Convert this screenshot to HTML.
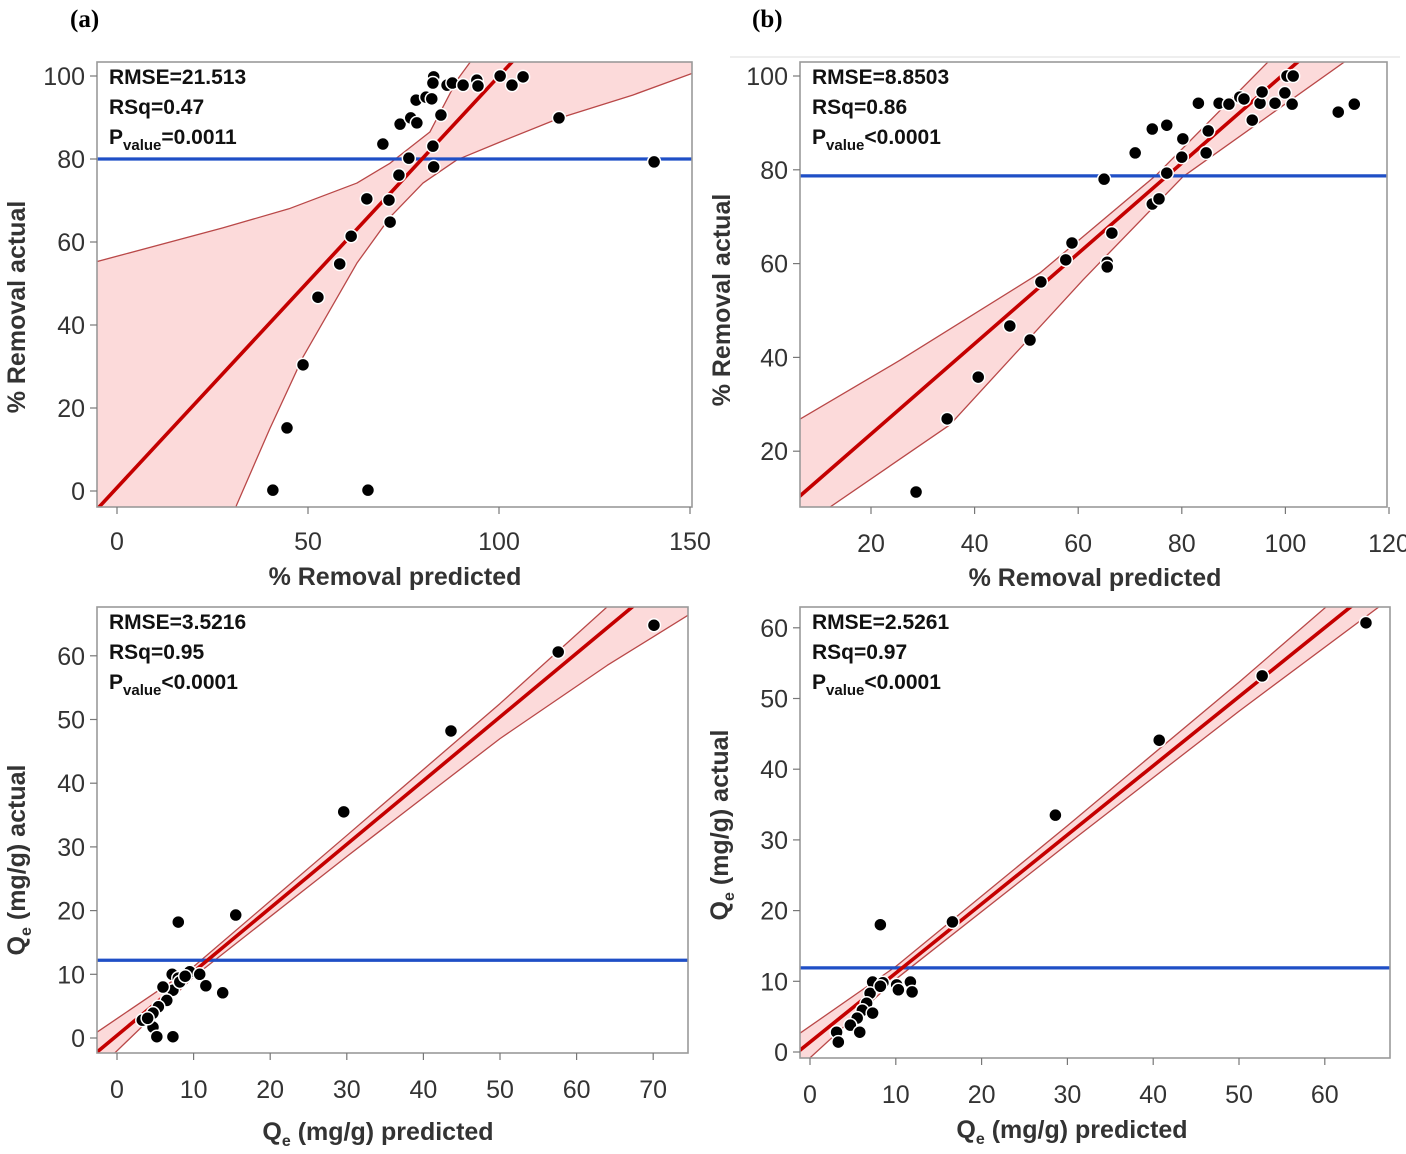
<!DOCTYPE html>
<html><head><meta charset="utf-8"><style>
html,body{margin:0;padding:0;background:#fff;}
svg{display:block;font-family:"Liberation Sans",sans-serif;}
</style></head><body>
<svg id="fig" width="1406" height="1154" viewBox="0 0 1406 1154" xmlns="http://www.w3.org/2000/svg">
<text x="70" y="27" font-family="Liberation Serif,serif" font-weight="bold" font-size="25">(a)</text>
<text x="752" y="27" font-family="Liberation Serif,serif" font-weight="bold" font-size="25">(b)</text>
<line x1="730" y1="57" x2="1400" y2="57" stroke="#ddd" stroke-width="1"/>
</svg>
<script>
// Panel A data (% removal)
const A_pred=[40.8,65.7,44.5,48.7,52.6,58.3,61.3,65.4,71.2,71.5,73.8,76.4,82.9,82.7,69.6,84.8,74.1,76.9,78.5,78.3,80.9,82.4,82.9,82.7,86.4,87.8,90.6,94.2,94.5,100.3,103.4,106.3,115.7,140.6];
const A_act=[0.2,0.2,15.2,30.4,46.7,54.7,61.4,70.4,70.1,64.8,76.1,80.2,78.1,83.1,83.6,90.6,88.4,89.9,88.7,94.2,94.9,94.5,99.8,98.3,97.8,98.3,97.8,99,97.6,100,97.8,99.8,89.9,79.3];
const A_fit=[0.992,0.8];
const A_mean=[80];
const A_bandHiX=[-6,27.7,45,62.8,71.5,81.9,89,92.9,100.3,160];
const A_bandHi=[55.1,63.4,68,74.2,79,86.5,99,103.9,118,130];
const A_bandLoX=[-6,27,31.3,40,48.7,62.8,71.5,80.1,89,100.3,116,135,150.8,160];
const A_bandLo=[-60,-16.6,-3.4,15,32.3,54.9,66,74.2,79.8,84.1,89.9,95.4,100.7,102];
const A_xt=[0,50,100,150];
const A_yt=[0,20,40,60,80,100];

// Panel B data (% removal)
const B_pred=[28.7,34.7,40.7,46.8,50.7,52.8,57.6,58.8,65.6,65.6,65,71,74.3,77.1,80.2,80,77.1,74.3,75.6,66.5,84.7,85.1,83.2,87.2,89.1,91.2,92,93.6,95.1,95.5,98,99.9,101.3,100.3,101.5,110.2,113.3];
const B_act=[11.3,26.9,35.8,46.7,43.7,56.1,60.8,64.4,60.3,59.3,78,83.6,88.7,89.5,86.6,82.7,79.3,72.7,73.8,66.5,83.6,88.3,94.2,94.2,94,95.5,95.1,90.6,94.2,96.6,94.2,96.4,94,100,100,92.3,94];
const B_fit=[0.963,4.4];
const B_mean=[78.7];
const B_bandHiX=[5,25.6,52.6,75.1,97,110];
const B_bandHi=[26,39.4,58,78.9,103.4,120];
const B_bandLoX=[5,12.1,35.2,60.9,80.2,111.9];
const B_bandLo=[-8,8.1,25.6,56.5,78.5,103.4];
const B_xt=[20,40,60,80,100,120];
const B_yt=[20,40,60,80,100];

// Panel C data (Qe)
const C_pred=[70.1,57.6,43.6,29.6,15.5,8,7.2,9.5,10.8,11.6,13.8,8,7.3,6.5,5.4,4.7,3.3,4.7,5.2,7.3,6,8.2,8.9,4];
const C_act=[64.8,60.6,48.2,35.5,19.3,18.2,10,10.4,10,8.2,7.1,9.4,7.5,5.9,4.9,3.9,2.8,1.7,0.2,0.2,8,8.8,9.7,3.1];
const C_fit=[1.0,0.4];
const C_mean=[12.2];
const C_bandHiX=[-3,10,30,50,64,75];
const C_bandHi=[0.6,11.2,31.8,52.5,67.7,80];
const C_bandLoX=[-3,10,30,50,64,75];
const C_bandLo=[-5.5,9.6,28.5,47,58.5,66.7];
const C_xt=[0,10,20,30,40,50,60,70];
const C_yt=[0,10,20,30,40,50,60];

// Panel D data (Qe)
const D_pred=[64.8,52.7,40.7,28.6,16.6,8.2,7.3,8.5,10.1,11.7,11.9,10.3,7,6.6,6.1,5.5,4.7,3.1,3.3,5.8,7.3,8.2];
const D_act=[60.7,53.2,44.1,33.5,18.4,18,9.9,9.8,9.5,9.9,8.5,8.8,8.3,6.9,5.9,4.8,3.8,2.8,1.4,2.8,5.5,9.3];
const D_fit=[0.977,1.4];
const D_mean=[11.9];
const D_bandHiX=[-2,10,30,50,70];
const D_bandHi=[1.95,12.1,32,52.3,73.3];
const D_bandLoX=[-2,10,30,50,70];
const D_bandLo=[-3.05,10.3,29.4,48.2,66.3];
const D_xt=[0,10,20,30,40,50,60];
const D_yt=[0,10,20,30,40,50,60];

const NS='http://www.w3.org/2000/svg';
const svg=document.getElementById('fig');
function mk(tag,attrs,parent){const e=document.createElementNS(NS,tag);for(const k in attrs)e.setAttribute(k,attrs[k]);(parent||svg).appendChild(e);return e;}

function panel(id,c,pred,act,fit,mean,hX,hY,lX,lY,xt,yt,stats,xTitle,yTitle){
  const sx=v=>c.xp0+v*c.kx, sy=v=>c.yp0-v*c.ky;
  const g=mk('g',{});
  
  
  const cp=mk('clipPath',{id:'clip'+id},g);
  mk('rect',{x:c.fx0,y:c.fy0,width:c.fx1-c.fx0,height:c.fy1-c.fy0},cp);
  const pl=mk('g',{'clip-path':'url(#clip'+id+')'},g);
  let pts=[];
  for(let i=0;i<hX.length;i++)pts.push(sx(hX[i])+','+sy(hY[i]));
  for(let i=lX.length-1;i>=0;i--)pts.push(sx(lX[i])+','+sy(lY[i]));
  const band=mk('polygon',{points:pts.join(' '),fill:'#fcdada',stroke:'none'},pl);
  
  
  const up=mk('polyline',{points:hX.map((x,i)=>sx(x)+','+sy(hY[i])).join(' '),fill:'none',stroke:'#b94848','stroke-width':1.3,'stroke-linejoin':'round'},pl);
  
  
  const lo=mk('polyline',{points:lX.map((x,i)=>sx(x)+','+sy(lY[i])).join(' '),fill:'none',stroke:'#b94848','stroke-width':1.3,'stroke-linejoin':'round'},pl);
  
  
  const ml=mk('line',{x1:c.fx0,x2:c.fx1,y1:sy(mean[0]),y2:sy(mean[0]),stroke:'#1f4fc6','stroke-width':3.2},pl);
  
  
  const xa=(c.fx0-c.xp0)/c.kx-5, xb=(c.fx1-c.xp0)/c.kx+5;
  const fl=mk('line',{x1:sx(xa),y1:sy(fit[0]*xa+fit[1]),x2:sx(xb),y2:sy(fit[0]*xb+fit[1]),stroke:'#c40000','stroke-width':3.6},pl);
  
  
  for(let i=0;i<pred.length;i++){
    const p=mk('circle',{cx:sx(pred[i]),cy:sy(act[i]),r:6.5,fill:'#000',stroke:'#fff','stroke-width':1.5},pl);
    
    
  }
  const fr=mk('rect',{x:c.fx0,y:c.fy0,width:c.fx1-c.fx0,height:c.fy1-c.fy0,fill:'none',stroke:'#9a9a9a','stroke-width':1.6},g);
  
  
  xt.forEach(v=>{
    mk('line',{x1:sx(v),x2:sx(v),y1:c.fy1,y2:c.fy1+7,stroke:'#777','stroke-width':1.2},g);
    const t=mk('text',{x:sx(v),y:c.fy1+c.xl,'text-anchor':'middle','font-size':25,fill:'#333'},g);
    t.textContent=v;
    
    
  });
  yt.forEach(v=>{
    mk('line',{x1:c.fx0-7,x2:c.fx0,y1:sy(v),y2:sy(v),stroke:'#777','stroke-width':1.2},g);
    const t=mk('text',{x:c.fx0-12,y:sy(v)+9,'text-anchor':'end','font-size':25,fill:'#333'},g);
    t.textContent=v;
    
    
  });
  const s=mk('text',{x:c.fx0+12,y:c.fy0+22,'font-size':21,'font-weight':'bold',fill:'#111'},g);
  
  
  s.innerHTML='<tspan x="'+(c.fx0+12)+'" dy="0">RMSE='+stats[0]+'</tspan><tspan x="'+(c.fx0+12)+'" dy="30">RSq='+stats[1]+'</tspan><tspan x="'+(c.fx0+12)+'" dy="30">P</tspan><tspan font-size="15" dy="6">value</tspan><tspan dy="-6">'+stats[2]+'</tspan>';
  const xtT=mk('text',{x:c.xtx,y:c.xty,'text-anchor':'middle','font-size':25,'font-weight':'bold',fill:'#333'},g);
  xtT.innerHTML=xTitle;
  
  
  const ytT=mk('text',{x:0,y:0,transform:'translate('+c.ytx+','+c.yty+') rotate(-90)','text-anchor':'middle','font-size':25,'font-weight':'bold',fill:'#333'},g);
  ytT.innerHTML=yTitle;
  
  
}
const QX='Q<tspan font-size="16" dy="6">e</tspan><tspan dy="-6"> (mg/g) predicted</tspan>';
const QY='Q<tspan font-size="16" dy="6">e</tspan><tspan dy="-6"> (mg/g) actual</tspan>';
panel('a',{fx0:97,fx1:692,fy0:62,fy1:507,xp0:117,kx:3.82,yp0:491,ky:4.15,xl:43,xtx:395,xty:585,ytx:25,yty:307},
  A_pred,A_act,A_fit,A_mean,A_bandHiX,A_bandHi,A_bandLoX,A_bandLo,A_xt,A_yt,['21.513','0.47','=0.0011'],'% Removal predicted','% Removal actual');
panel('b',{fx0:800,fx1:1387,fy0:62,fy1:507,xp0:767.4,kx:5.18,yp0:545,ky:4.69,xl:45,xtx:1095,xty:586,ytx:730,yty:300},
  B_pred,B_act,B_fit,B_mean,B_bandHiX,B_bandHi,B_bandLoX,B_bandLo,B_xt,B_yt,['8.8503','0.86','&lt;0.0001'],'% Removal predicted','% Removal actual');
panel('c',{fx0:97,fx1:688,fy0:607,fy1:1053,xp0:117,kx:7.66,yp0:1038,ky:6.37,xl:45,xtx:378,xty:1140,ytx:25,yty:860},
  C_pred,C_act,C_fit,C_mean,C_bandHiX,C_bandHi,C_bandLoX,C_bandLo,C_xt,C_yt,['3.5216','0.95','&lt;0.0001'],QX,QY);
panel('d',{fx0:800,fx1:1390,fy0:607,fy1:1058,xp0:810,kx:8.58,yp0:1052,ky:7.07,xl:45,xtx:1072,xty:1138,ytx:728,yty:825},
  D_pred,D_act,D_fit,D_mean,D_bandHiX,D_bandHi,D_bandLoX,D_bandLo,D_xt,D_yt,['2.5261','0.97','&lt;0.0001'],QX,QY);
</script>
</body></html>
